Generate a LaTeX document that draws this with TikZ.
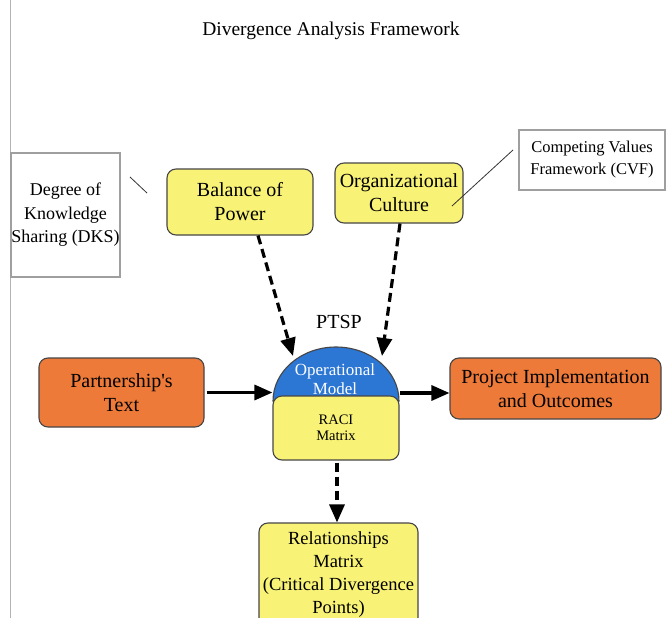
\documentclass[tikz,border=0pt]{standalone}
\usepackage{fontspec}
\setmainfont{Liberation Serif}
\usetikzlibrary{arrows.meta}
\definecolor{boxyellow}{RGB}{248,242,118}
\definecolor{boxorange}{RGB}{238,122,58}
\definecolor{domeblue}{RGB}{44,118,212}
\definecolor{edgegray}{RGB}{70,70,70}

\begin{document}
\begin{tikzpicture}[x=1pt,y=-1pt,
  card/.style={draw=edgegray, line width=1.1pt, rounded corners=9pt, inner sep=0pt, align=center, text=black},
  yelcard/.style={card, fill=boxyellow},
  orgcard/.style={card, fill=boxorange},
  notebox/.style={draw=gray!75, line width=1.2pt, inner sep=0pt, align=center, fill=white},
  flow/.style={line width=3.2pt, -{Triangle[length=18pt,width=15pt]}},
  dashflow/.style={flow, dash pattern=on 9pt off 5pt},
  callout/.style={line width=0.8pt, draw=black!80},
  big/.style={font=\fontsize{20}{24}\selectfont},
  mid/.style={font=\fontsize{18.5}{23}\selectfont}
]
\clip (0,0) rectangle (667,618);
\fill[white] (0,0) rectangle (667,618);

% page rule on the left
\draw[gray!60, line width=0.8pt] (10,0) -- (10,618);

% title
\node[font=\fontsize{19.5}{24}\selectfont] (title) at (331,31) {Divergence Analysis Framework};

% upper factor boxes
\node[yelcard, big, minimum width=146pt, minimum height=66pt] (bal) at (240,202) {Balance of\\Power};
\node[yelcard, big, minimum width=128pt, minimum height=60pt] (org) at (399,193) {Organizational\\Culture};

% side notes
\node[notebox, font=\fontsize{18}{23.5}\selectfont, minimum width=109pt, minimum height=124pt] (dks) at (65.5,215) {Degree of\\Knowledge\\Sharing (DKS)};
\node[notebox, font=\fontsize{16.5}{22}\selectfont, minimum width=146pt, minimum height=60pt] (cvf) at (592,160) {Competing Values\\Framework (CVF)};

\coordinate (dksA) at (130,177);
\coordinate (dksB) at (147,193);
\draw[callout] (dksA) -- (dksB);
\coordinate (orgIn) at (452,206);
\coordinate (cvfEnd) at (513,150);
\draw[callout] (orgIn) -- (cvfEnd);

% PTSP: operational model dome over the RACI matrix
\node[big] (ptsp) at (339,322) {PTSP};
\filldraw[fill=domeblue, draw=edgegray, line width=1.1pt]
  (273,401) arc[start angle=180, end angle=360, x radius=63, y radius=54] -- cycle;
\node[yelcard, font=\fontsize{14.5}{16.5}\selectfont, minimum width=126pt, minimum height=64pt] (raci) at (336,428) {RACI\\Matrix};
\node[text=white, align=center, font=\fontsize{17}{19.5}\selectfont, inner sep=0pt] (opm) at (335,379) {Operational\\Model};

% side boxes
\node[orgcard, big, minimum width=165pt, minimum height=69pt] (part) at (121.5,392.5) {Partnership\textquotesingle s\\Text};
\node[orgcard, big, minimum width=211pt, minimum height=61pt] (proj) at (555.5,388.5) {Project Implementation\\and Outcomes};

% result box
\node[yelcard, mid, minimum width=159pt, minimum height=104pt] (rel) at (338.5,575) {Relationships\\Matrix\\(Critical Divergence\\Points)};

% connectors
\coordinate (domeL) at (293,356);
\coordinate (domeR) at (382,356);
\coordinate (domeE) at (400,393);
\draw[dashflow] (bal.south -| 258,0) -- (domeL);
\draw[dashflow] (org.south -| 400,0) -- (domeR);
\draw[flow] (part.east) ++(2,0) -- (raci.west |- part.east);
\draw[flow] (domeE) -- (proj.west |- domeE);
\draw[dashflow] (raci.south) ++(1,2) -- (rel.north -| 337,0);
\end{tikzpicture}
\end{document}
